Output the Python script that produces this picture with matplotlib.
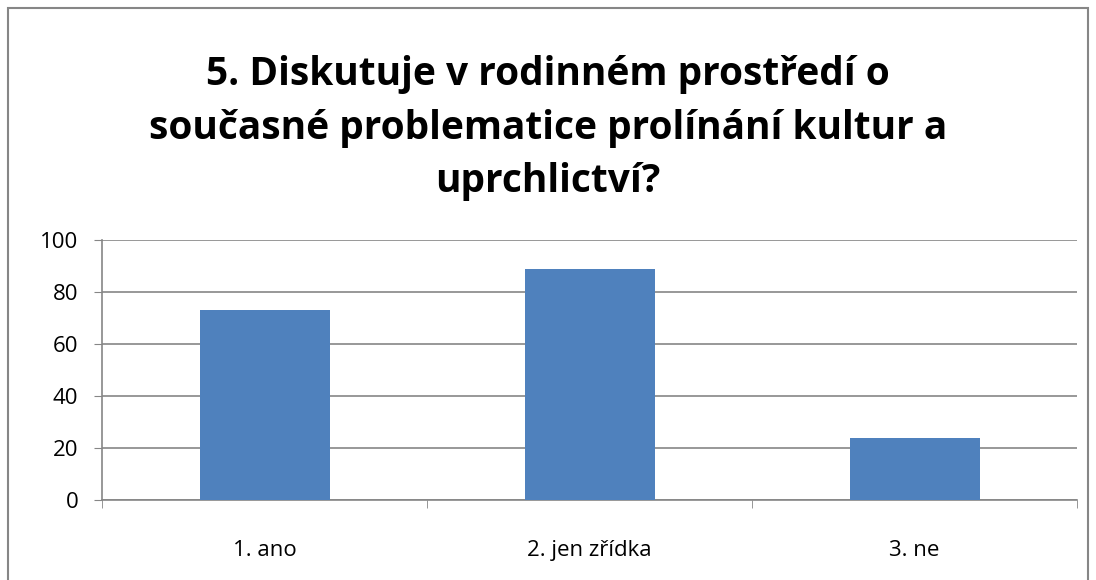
import matplotlib.pyplot as plt
from matplotlib.patches import Rectangle

# Data
categories = ["1. ano", "2. jen zřídka", "3. ne"]
values = [73, 89, 24]
title = "5. Diskutuje v rodinném prostředí o\nsoučasné problematice prolínání kultur a\nuprchlictví?"

plt.rcParams['font.family'] = ['Open Sans', 'DejaVu Sans']

fig = plt.figure(figsize=(10.96, 5.8), dpi=100)
ax = fig.add_axes([102/1096, 1 - 500/580, (1077-102)/1096, 260/580])

x = range(len(categories))
ax.bar(x, values, width=0.4, color='#4f81bd', zorder=3)

ax.set_xlim(-0.5, len(categories) - 0.5)
ax.set_ylim(0, 100)
ax.set_yticks(range(0, 101, 20))
ax.set_xticks(list(x))
ax.set_xticklabels(categories, fontsize=16)
ax.tick_params(axis='y', labelsize=16, length=6, color='#868686', pad=11)
ax.tick_params(axis='x', length=0, pad=29)
# minor ticks between categories
ax.set_xticks([-0.5, 0.5, 1.5, 2.5], minor=True)
ax.tick_params(axis='x', which='minor', length=6, color='#868686', direction='out')

ax.grid(axis='y', color='#868686', linewidth=1.2, zorder=0)
for side in ['top', 'right']:
    ax.spines[side].set_visible(False)
ax.spines['left'].set_color('#868686')
ax.spines['bottom'].set_color('#868686')
ax.spines['left'].set_linewidth(1.2)
ax.spines['bottom'].set_linewidth(1.2)

fig.text(0.5, 1 - 128/580, title, ha='center', va='center', fontsize=28,
         fontweight='bold', linespacing=1.47)

# outer chart border
fig.patches.append(Rectangle((8/1096, -0.05), 1080/1096, 1 - 8/580 + 0.05,
                             transform=fig.transFigure, fill=False,
                             edgecolor='#868686', linewidth=1.5))

fig.savefig('out.png', dpi=100)
